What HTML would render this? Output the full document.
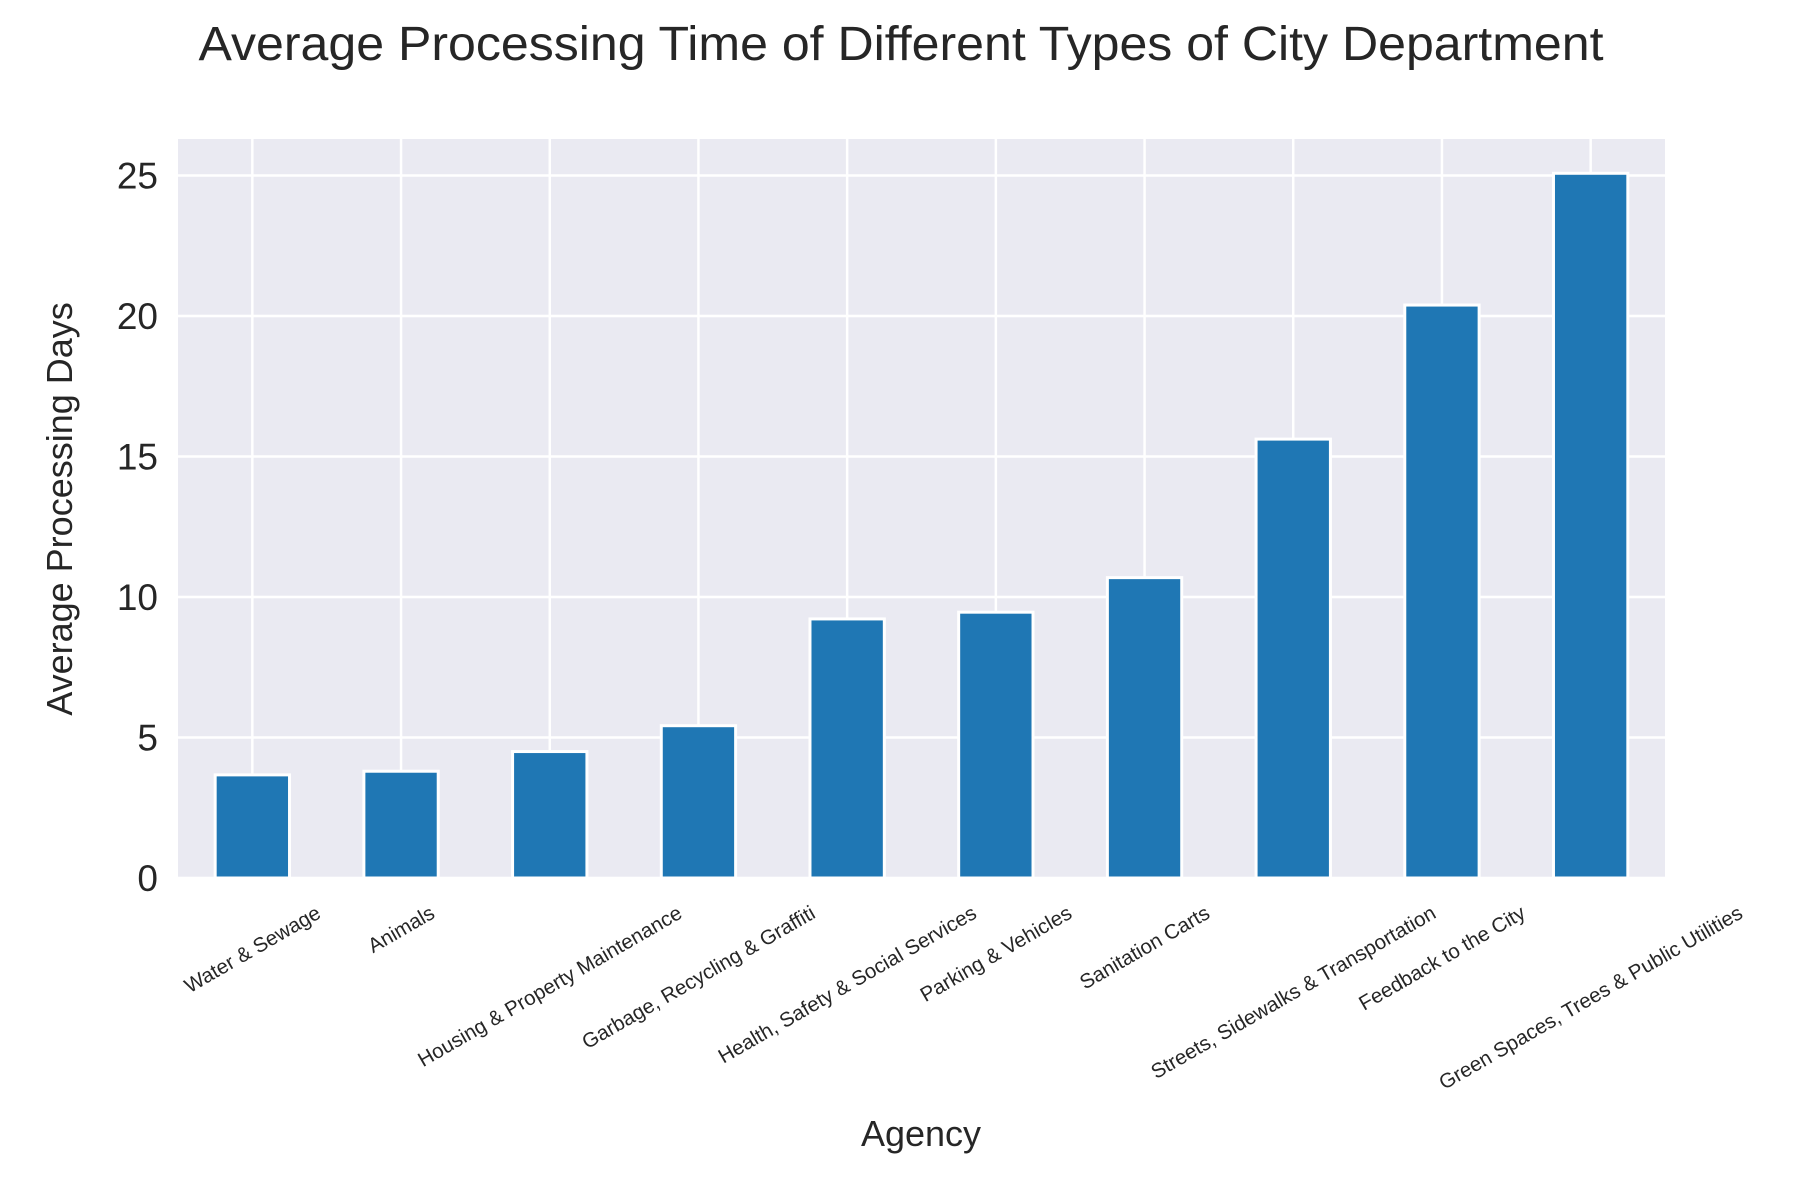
<!DOCTYPE html>
<html><head><meta charset="utf-8"><style>body{margin:0;background:#fff}svg{display:block;font-family:"Liberation Sans",Arial,sans-serif}</style></head>
<body>
<svg id="chart" width="1800" height="1200" viewBox="0 0 1800 1200">
<text x="901" y="60" font-size="48" fill="#262626" text-anchor="middle" textLength="1405" lengthAdjust="spacingAndGlyphs">Average Processing Time of Different Types of City Department</text>
<rect x="178" y="139" width="1487" height="739" fill="#eaeaf2"/>
<g id="grid"></g><g id="bars"></g><g id="yticks"></g><g id="xticks"></g>
<text transform="translate(72,509) rotate(-90)" font-size="36" fill="#262626" text-anchor="middle">Average Processing Days</text>
<text x="921" y="1146" font-size="36" fill="#262626" text-anchor="middle">Agency</text>
</svg>
<script>
const categories = ["Water & Sewage","Animals","Housing & Property Maintenance","Garbage, Recycling & Graffiti","Health, Safety & Social Services","Parking & Vehicles","Sanitation Carts","Streets, Sidewalks & Transportation","Feedback to the City","Green Spaces, Trees & Public Utilities"];
const values = [3.67, 3.8, 4.5, 5.42, 9.22, 9.46, 10.69, 15.62, 20.39, 25.08];
const yTicks = [0, 5, 10, 15, 20, 25];
const NS = "http://www.w3.org/2000/svg";
const L = 178, R = 1665, T = 139, B = 878, YMAX = 26.3;
const n = categories.length;
const step = (R - L) / n;
const xc = i => L + step * (i + 0.5);
const y = v => B - v / YMAX * (B - T);
function mk(tag, attrs, parent){const e=document.createElementNS(NS,tag);for(const k in attrs)e.setAttribute(k,attrs[k]);document.getElementById(parent).appendChild(e);return e;}
yTicks.forEach(t=>{
  const g = mk("line",{x1:L,x2:R,y1:y(t),y2:y(t),stroke:"#fff","stroke-width":2.5},"grid");
  
  
  const tx = mk("text",{x:L-20,y:y(t)+13,"font-size":37,fill:"#262626","text-anchor":"end"},"yticks");
  tx.textContent = t;
  
  
});
categories.forEach((c,i)=>{
  const g = mk("line",{x1:xc(i),x2:xc(i),y1:T,y2:B,stroke:"#fff","stroke-width":2.5},"grid");
  
  
});
values.forEach((v,i)=>{
  const w = step*0.5;
  const b = mk("rect",{x:xc(i)-w/2,y:y(v),width:w,height:B-y(v),fill:"#1f77b4",stroke:"#fff","stroke-width":3},"bars");
  
  
});
categories.forEach((c,i)=>{
  const t = mk("text",{x:0,y:0,"font-size":20.5,fill:"#262626","text-anchor":"middle"},"xticks");
  t.textContent = c;
  
  
  const w = t.getComputedTextLength(), h = 20.5;
  const bh = w*0.5 + h*0.866;
  const cy = B + 24 + bh/2;
  t.setAttribute("transform",`translate(${xc(i)},${cy}) rotate(-30) translate(0,7)`);
});
</script>
</body></html>
